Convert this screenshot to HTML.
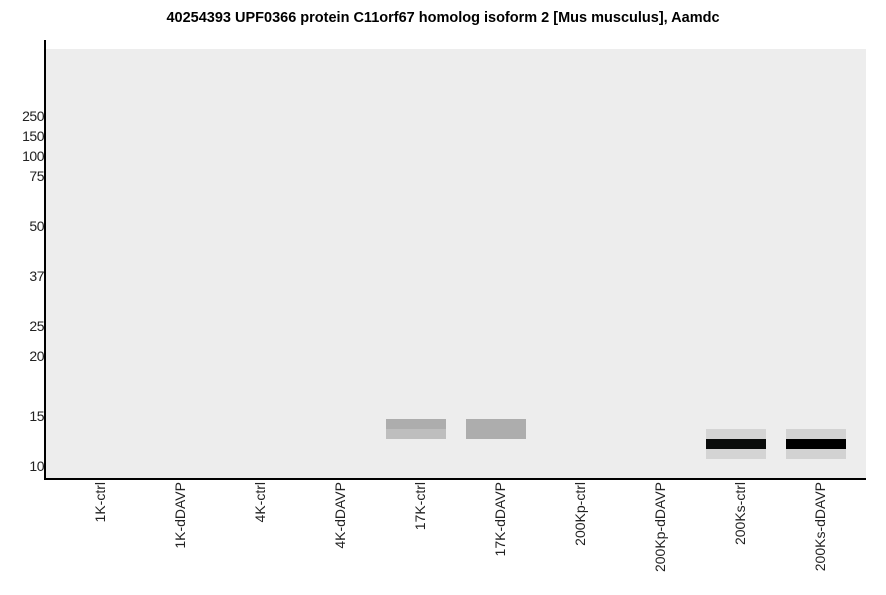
<!DOCTYPE html>
<html><head><style>
body{margin:0;width:886px;height:595px;background:#fff;font-family:"Liberation Sans",sans-serif;position:relative;overflow:hidden}
.a{position:absolute}
.t{font-size:14px;color:#222;text-align:right;width:42px;left:2px;letter-spacing:-0.5px}
.l{font-size:14px;color:#222;position:absolute;top:482px;writing-mode:vertical-rl;transform:rotate(180deg);text-align:left;width:16px}
</style></head><body>
<div class="a" style="top:10px;left:0;width:886px;text-align:center;font-weight:bold;font-size:14.5px">40254393 UPF0366 protein C11orf67 homolog isoform 2 [Mus musculus], Aamdc</div>
<div class="a" style="left:46px;top:49px;width:820px;height:430px;background:#ededed"></div>
<div class="a" style="left:44px;top:40px;width:2px;height:440px;background:#000"></div>
<div class="a" style="left:44px;top:478px;width:822px;height:2px;background:#000"></div>
<div class="a t" style="top:108px">250</div>
<div class="a t" style="top:128px">150</div>
<div class="a t" style="top:148px">100</div>
<div class="a t" style="top:168px">75</div>
<div class="a t" style="top:218px">50</div>
<div class="a t" style="top:268px">37</div>
<div class="a t" style="top:318px">25</div>
<div class="a t" style="top:348px">20</div>
<div class="a t" style="top:408px">15</div>
<div class="a t" style="top:458px">10</div>
<div class="a" style="left:386px;top:419px;width:60px;height:10px;background:#adadad"></div>
<div class="a" style="left:386px;top:429px;width:60px;height:10px;background:#bebebe"></div>
<div class="a" style="left:466px;top:419px;width:60px;height:20px;background:#adadad"></div>
<div class="a" style="left:706px;top:429px;width:60px;height:30px;background:#d4d4d4"></div>
<div class="a" style="left:706px;top:439px;width:60px;height:10px;background:#0a0c0b"></div>
<div class="a" style="left:786px;top:429px;width:60px;height:30px;background:#d2d2d2"></div>
<div class="a" style="left:786px;top:439px;width:60px;height:10px;background:#000"></div>
<div class="l" style="left:92px">1K-ctrl</div>
<div class="l" style="left:172px">1K-dDAVP</div>
<div class="l" style="left:252px">4K-ctrl</div>
<div class="l" style="left:332px">4K-dDAVP</div>
<div class="l" style="left:412px">17K-ctrl</div>
<div class="l" style="left:492px">17K-dDAVP</div>
<div class="l" style="left:572px">200Kp-ctrl</div>
<div class="l" style="left:652px">200Kp-dDAVP</div>
<div class="l" style="left:732px">200Ks-ctrl</div>
<div class="l" style="left:812px">200Ks-dDAVP</div>
</body></html>
